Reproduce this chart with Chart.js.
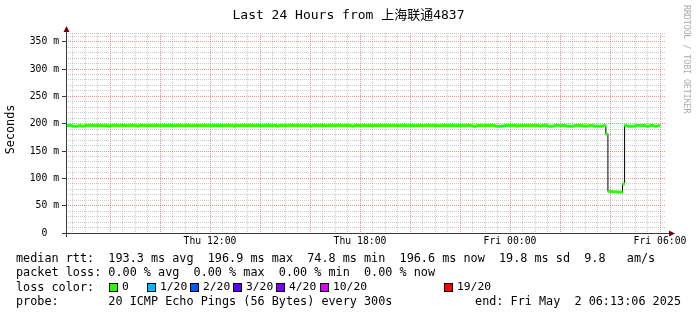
<!DOCTYPE html>
<html>
<head>
<meta charset="utf-8">
<script src="https://cdn.jsdelivr.net/npm/chart.js@4.4.1/dist/chart.umd.min.js"></script>
<style>
  html, body { margin: 0; padding: 0; background: #fff; }
  #wrap { position: relative; width: 697px; height: 315px; overflow: hidden; font-family: 'DejaVu Sans Mono', monospace; color: #000; }
  #wrap canvas { position: absolute; left: 0; top: 0; }
  #title { position: absolute; left: 0; top: 7px; width: 697px; text-align: center; font-size: 13px; line-height: 16px; white-space: pre; font-family: 'DejaVu Sans Mono', 'Noto Sans CJK SC', monospace; }
  #mark { position: absolute; left: 682px; top: 5px; writing-mode: vertical-rl; font-size: 8.2px; line-height: 10px; color: #aaa; white-space: pre; }
  .row { position: absolute; left: 16px; white-space: pre; font-size: 11.8px; line-height: 14px; }
  .box { position: absolute; width: 7px; height: 7px; border: 1px solid #000; }
  .lbl { position: absolute; white-space: pre; font-size: 11.3px; line-height: 14px; }
</style>
</head>
<body>
<div id="wrap">
  <canvas id="chart" width="697" height="315"></canvas>
  <div id="title"></div>
  <div id="mark">RRDTOOL / TOBI OETIKER</div>
  <div class="row" id="rowRtt" style="top:251px"></div>
  <div class="row" id="rowLoss" style="top:265px"></div>
  <div class="row" style="top:280px">loss color:</div>
  <div id="lossItems"></div>
  <div class="row" id="rowProbe" style="top:294px"></div>
  <div class="row" id="rowEnd" style="top:294px; left:auto; right:16px"></div>
</div>
<script>
// ---- data ----
const titleText = 'Last 24 Hours from 上海联通4837';
const slotStart = 375;   // minutes after Thu 00:00, first 5 min slot
const slotMinutes = 5;
// median rtt in ms, one value per 5 minute slot
const medianRtt = [
  196.8, 196.7, 196.6, 195.6, 195.4, 195.7, 196.6, 195.5, 195.6, 196.7, 196.8, 196.6, 196.7, 196.8, 196.7,
  196.6, 196.7, 196.8, 196.7, 196.6, 195.6, 196.7, 196.8, 196.7, 196.6, 196.7, 196.8, 196.9, 196.7, 196.6,
  196.7, 196.8, 196.7, 196.6, 195.7, 196.7, 196.8, 196.7, 196.6, 196.7, 196.8, 196.7, 196.6, 196.7, 196.8,
  196.7, 196.6, 196.7, 196.8, 196.7, 196.9, 196.7, 196.6, 196.7, 196.8, 196.7, 196.6, 196.7, 196.8, 196.7,
  196.6, 196.7, 196.8, 196.7, 196.6, 196.7, 196.8, 196.7, 196.6, 196.7, 196.8, 196.9, 196.7, 196.6, 196.7,
  196.8, 196.7, 196.6, 196.7, 196.8, 195.7, 196.7, 196.6, 196.7, 196.8, 196.7, 196.6, 196.7, 196.8, 196.7,
  196.6, 196.7, 196.8, 196.7, 196.6, 196.7, 196.8, 196.7, 196.6, 196.7, 196.8, 195.6, 196.7, 196.8, 196.7,
  196.6, 196.7, 196.8, 196.7, 196.9, 196.7, 196.6, 196.7, 196.8, 196.7, 196.6, 196.7, 195.7, 196.8, 196.7,
  196.6, 196.7, 196.8, 196.7, 196.6, 196.7, 196.8, 196.7, 196.6, 196.7, 196.8, 196.7, 196.6, 196.7, 196.8,
  196.7, 196.6, 195.6, 196.7, 196.8, 196.7, 196.6, 196.7, 196.8, 196.7, 196.6, 196.7, 196.8, 196.7, 196.6,
  196.7, 196.8, 196.7, 196.6, 196.7, 196.8, 196.7, 196.9, 196.7, 196.6, 196.7, 196.8, 196.7, 196.6, 196.7,
  196.8, 196.7, 196.6, 196.7, 196.8, 196.7, 196.6, 196.7, 196.8, 196.7, 196.6, 196.7, 196.8, 196.7, 196.6,
  196.7, 196.8, 196.7, 196.6, 196.7, 196.8, 196.7, 196.6, 196.7, 196.8, 196.7, 196.6, 196.7, 196.8, 196.7,
  195.6, 195.5, 196.7, 196.8, 196.7, 196.6, 196.7, 196.8, 196.7, 196.6, 196.7, 195.6, 195.4, 195.5, 195.7,
  196.7, 196.8, 196.7, 196.6, 196.7, 196.8, 195.6, 196.7, 196.6, 196.7, 196.8, 196.7, 196.6, 196.7, 196.8,
  196.7, 196.6, 195.6, 196.7, 196.8, 196.7, 195.5, 195.4, 195.6, 196.7, 196.8, 196.7, 196.6, 196.7, 196.8,
  195.6, 195.4, 195.5, 195.7, 196.7, 196.8, 196.7, 196.6, 195.6, 195.5, 195.7, 196.7, 196.8, 195.6, 195.5,
  195.4, 195.6, 195.7, 196.6, 180.8, 76.2, 75.9, 75.6, 75.4, 75.0, 74.8, 74.9, 89.7, 196.7, 195.6,
  195.5, 195.4, 195.6, 196.7, 196.8, 196.7, 196.6, 196.7, 195.6, 195.5, 196.7, 196.8, 195.6, 195.5, 196.6
];
const tickMinutes = [720, 1080, 1440, 1800];
const tickLabels = ['Thu 12:00', 'Thu 18:00', 'Fri 00:00', 'Fri 06:00'];
const rttStats = ['193.3 ms avg', '196.9 ms max', '74.8 ms min', '196.6 ms now', '19.8 ms sd', '9.8   am/s'];
const lossStats = ['0.00 % avg', '0.00 % max', '0.00 % min', '0.00 % now'];
const lossLabels = ['0', '1/20', '2/20', '3/20', '4/20', '10/20', '19/20'];
const lossColors = ['#26ff00', '#00b8ff', '#0059ff', '#5e00ff', '#7e00ff', '#dd00ff', '#ff0000'];
const probeText = '20 ICMP Echo Pings (56 Bytes) every 300s';
const endText = 'end: Fri May  2 06:13:06 2025';

// ---- layout / style ----
const lossBoxX = [109, 147, 190, 233, 276, 320, 444];
const xMin = 374.4, xMax = 1814.4;
const yMax = 366;
const bandHalf = 2.0;
const minorGrid = 'rgba(140,140,140,0.45)';
const majorGrid = 'rgba(225,60,60,0.55)';
const axisFont = { family: 'DejaVu Sans Mono', size: 9.75 };

// text rows
document.getElementById('title').textContent = titleText;
document.getElementById('rowRtt').textContent = 'median rtt:  ' + rttStats.join('  ');
document.getElementById('rowLoss').textContent = 'packet loss: ' + lossStats.join('  ');
document.getElementById('rowProbe').textContent = 'probe:       ' + probeText;
document.getElementById('rowEnd').textContent = endText;
const lossItems = document.getElementById('lossItems');
lossLabels.forEach((l, i) => {
  const b = document.createElement('div');
  b.className = 'box';
  b.style.left = lossBoxX[i] + 'px';
  b.style.top = '283px';
  b.style.background = lossColors[i];
  lossItems.appendChild(b);
  const t = document.createElement('div');
  t.className = 'lbl';
  t.style.left = (lossBoxX[i] + 13) + 'px';
  t.style.top = '280px';
  t.textContent = l;
  lossItems.appendChild(t);
});

const slotMid = i => slotStart + slotMinutes * i + slotMinutes / 2;
const medianPoints = medianRtt.map((v, i) => ({ x: slotMid(i), y: v }));
const bandPoints = medianRtt.map((v, i) => ({ x: slotMid(i), y: [v - bandHalf, v + bandHalf] }));

// rrdtool style axes with arrows
const rrdAxes = {
  id: 'rrdAxes',
  afterDraw(chart) {
    const { ctx, chartArea: a } = chart;
    const x0 = a.left + 0.5, y0 = a.bottom + 0.5;
    ctx.save();
    ctx.strokeStyle = '#3a3a3a';
    ctx.lineWidth = 1;
    ctx.beginPath();
    ctx.moveTo(x0, a.bottom + 4);
    ctx.lineTo(x0, a.top - 2);
    ctx.moveTo(a.left - 4, y0);
    ctx.lineTo(a.right + 3, y0);
    ctx.stroke();
    ctx.fillStyle = '#7f0000';
    ctx.beginPath();
    ctx.moveTo(x0, a.top - 7);
    ctx.lineTo(x0 - 3, a.top - 1);
    ctx.lineTo(x0 + 3, a.top - 1);
    ctx.closePath();
    ctx.fill();
    ctx.beginPath();
    ctx.moveTo(a.right + 9, y0);
    ctx.lineTo(a.right + 3, y0 - 3);
    ctx.lineTo(a.right + 3, y0 + 3);
    ctx.closePath();
    ctx.fill();
    ctx.restore();
  }
};

new Chart(document.getElementById('chart'), {
  type: 'line',
  data: {
    datasets: [{
      type: 'bar',
      data: bandPoints,
      backgroundColor: lossColors[0],
      borderWidth: 0,
      barPercentage: 1,
      categoryPercentage: 1,
      order: 0
    }, {
      type: 'line',
      data: medianPoints,
      borderColor: '#000',
      borderWidth: 1,
      stepped: 'middle',
      pointRadius: 0,
      fill: false,
      order: 1
    }]
  },
  options: {
    responsive: false,
    animation: false,
    devicePixelRatio: 1,
    layout: { padding: { left: 0, top: 33, right: 31, bottom: 62 } },
    plugins: { legend: { display: false }, tooltip: { enabled: false }, title: { display: false } },
    scales: {
      x: {
        type: 'linear',
        min: xMin,
        max: xMax,
        bounds: 'data',
        offset: false,
        afterFit: s => { s.height = 20; },
        afterBuildTicks: s => {
          const t = [];
          for (let v = 390; v <= xMax; v += 30) t.push({ value: v });
          s.ticks = t;
        },
        grid: {
          offset: false,
          drawTicks: false,
          lineWidth: 1,
          borderDash: [1, 1],
          color: c => (c.tick && c.tick.value % 120 === 0) ? majorGrid : minorGrid
        },
        border: { display: false, dash: [1, 1] },
        ticks: {
          autoSkip: false,
          maxRotation: 0,
          minRotation: 0,
          padding: 3,
          color: '#000',
          font: axisFont,
          callback: v => {
            const k = tickMinutes.indexOf(v);
            return k >= 0 ? tickLabels[k] : '';
          }
        }
      },
      y: {
        type: 'linear',
        min: 0,
        max: yMax,
        bounds: 'data',
        afterFit: s => { s.width = 66; },
        grid: {
          drawTicks: true,
          tickLength: 4,
          lineWidth: 1,
          borderDash: [1, 1],
          color: c => (c.tick && c.tick.value % 50 === 0) ? majorGrid : minorGrid,
          tickColor: c => (c.tick && c.tick.value % 50 === 0) ? '#3a3a3a' : 'rgba(0,0,0,0)'
        },
        border: { display: false, dash: [1, 1] },
        ticks: {
          stepSize: 10,
          includeBounds: false,
          autoSkip: false,
          padding: 3,
          color: '#000',
          font: axisFont,
          callback: v => v % 50 !== 0 ? '' : (v === 0 ? '0  ' : v + ' m')
        },
        title: {
          display: true,
          text: ' Seconds',
          color: '#000',
          font: { family: 'DejaVu Sans Mono', size: 11.8 },
          padding: { top: 4, bottom: 0 }
        }
      }
    }
  },
  plugins: [rrdAxes]
});
</script>
</body>
</html>
